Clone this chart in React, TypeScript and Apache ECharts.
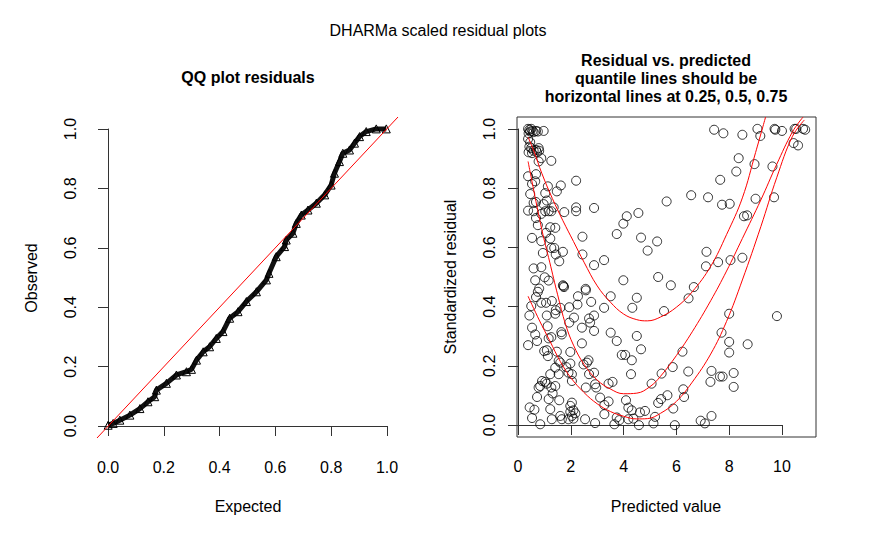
import React, { useEffect, useRef } from "react";
import * as echarts from "echarts";

// ---------- QQ plot (left) ----------
const qqExpected = [0, 0.018, 0.042, 0.078, 0.114, 0.143, 0.167, 0.173, 0.209, 0.245, 0.281, 0.299, 0.317, 0.341, 0.364, 0.388, 0.412, 0.436, 0.466, 0.496, 0.532, 0.568, 0.577, 0.603, 0.633, 0.639, 0.663, 0.675, 0.693, 0.717, 0.747, 0.777, 0.8, 0.812, 0.83, 0.842, 0.866, 0.884, 0.902, 0.926, 0.962, 0.998];
const qqObserved = [0.003, 0.009, 0.02, 0.037, 0.059, 0.082, 0.099, 0.121, 0.144, 0.172, 0.183, 0.191, 0.222, 0.25, 0.267, 0.295, 0.318, 0.363, 0.385, 0.419, 0.452, 0.492, 0.514, 0.57, 0.604, 0.626, 0.649, 0.682, 0.71, 0.727, 0.75, 0.778, 0.811, 0.851, 0.89, 0.918, 0.929, 0.952, 0.974, 0.991, 1.0, 1.0];
const qqRefLine = [[-0.04, -0.04], [1.04, 1.04]];

// ---------- Residual vs predicted (right) ----------
const predicted = [
  0.38, 0.43, 0.5, 0.46, 0.55, 0.4, 0.59, 0.68, 0.75, 0.97, 0.38, 0.46, 0.43, 0.5, 0.59, 0.68, 0.78, 0.8, 0.4, 0.53, 0.72,
  1.26, 0.78, 0.88, 0.38, 0.68, 0.53, 0.65, 1.13, 1.62, 1.47, 2.2, 1.03, 0.46, 0.59, 0.68, 0.97, 1.09, 1.35, 1.03, 1.16,
  1.26, 0.88, 0.59, 0.38, 1.75, 2.2, 2.2, 2.88, 0.68, 0.75, 1.22, 1.41, 1.06, 0.88, 0.53, 1.22, 2.44, 3.74, 3.99, 4.12,
  4.56, 1.26, 1.37, 1.43, 1.7, 0.94, 1.56, 2.44, 2.88, 3.26, 0.59, 0.88, 0.65, 1.01, 1.16, 0.8, 0.75, 0.68, 0.88, 1.06,
  1.28, 0.5, 1.72, 1.7, 1.74, 1.43, 1.6, 1.94, 2.25, 2.57, 2.77, 2.27, 3.26, 3.51, 3.99, 4.5, 4.33, 4.66, 4.91, 0.43,
  1.09, 1.41, 2.12, 2.42, 2.69, 2.73, 2.88, 2.88, 1.64, 1.66, 1.26, 1.16, 0.65, 0.53, 0.38, 0.72, 3.51, 3.74, 4.5, 4.66,
  2.42, 3.93, 4.06, 4.31, 0.99, 1.09, 1.47, 1.13, 1.98, 2.67, 2.61, 2.88, 0.44, 0.53, 0.62, 0.84, 1.22, 1.28, 1.6, 1.66,
  1.98, 2.1, 2.17, 2.04, 1.91, 2.54, 2.92, 3.27, 3.65, 3.74, 4.18, 4.58, 5.13, 5.19, 0.78, 0.91, 0.84, 1.09, 1.26, 1.41,
  1.31, 1.16, 0.72, 1.56, 1.54, 1.22, 1.91, 2.04, 2.57, 2.69, 2.92, 2.96, 3.11, 3.27, 3.43, 3.58, 3.43, 4.09, 4.18, 4.31,
  4.28, 4.62, 4.81, 5.06, 1.41, 1.54, 1.6, 1.83, 1.12, 2.56, 3.84, 4.37, 2.48, 1.94, 1.98, 2.04, 1.98, 2.04, 2.1, 1.03,
  7.43, 7.78, 8.5, 9.07, 9.18, 9.72, 9.75, 10.0, 10.48, 10.54, 10.8, 10.88, 10.44, 10.61, 8.36, 8.27, 8.96, 9.64, 7.66,
  5.63, 6.56, 7.2, 7.73, 8.02, 9.0, 9.7, 8.56, 8.68, 5.27, 7.14, 7.12, 7.58, 8.05, 8.5, 5.31, 5.79, 6.66, 6.46, 5.53, 8.0,
  9.81, 7.71, 8.0, 8.7, 8.0, 6.23, 5.86, 6.45, 7.33, 7.29, 7.65, 7.75, 8.17, 8.17, 6.26, 6.29, 5.66, 5.42, 5.44, 5.88,
  7.33, 6.92, 7.08, 5.94, 5.31
];
const scaledResidual = [
  1.0, 0.997, 1.0, 0.991, 0.993, 0.985, 0.989, 0.993, 0.991, 0.993, 0.966, 0.955, 0.94, 0.935, 0.926, 0.929, 0.935, 0.926, 0.921, 0.918, 0.921,
  0.892, 0.89, 0.901, 0.84, 0.847, 0.814, 0.823, 0.806, 0.809, 0.789, 0.825, 0.783, 0.78, 0.75, 0.753, 0.746, 0.758, 0.735, 0.722, 0.722,
  0.722, 0.713, 0.722, 0.724, 0.719, 0.735, 0.722, 0.733, 0.699, 0.675, 0.668, 0.666, 0.649, 0.621, 0.632, 0.63, 0.636, 0.645, 0.68, 0.705,
  0.716, 0.598, 0.598, 0.576, 0.585, 0.581, 0.553, 0.576, 0.54, 0.557, 0.529, 0.533, 0.489, 0.499, 0.488, 0.461, 0.45, 0.432, 0.413, 0.413,
  0.419, 0.402, 0.469, 0.472, 0.466, 0.388, 0.396, 0.398, 0.407, 0.455, 0.416, 0.435, 0.396, 0.435, 0.489, 0.43, 0.396, 0.633, 0.589, 0.37,
  0.37, 0.376, 0.363, 0.329, 0.36, 0.346, 0.37, 0.318, 0.314, 0.306, 0.297, 0.293, 0.306, 0.329, 0.27, 0.284, 0.312, 0.284, 0.301, 0.256,
  0.276, 0.237, 0.237, 0.219, 0.25, 0.253, 0.248, 0.233, 0.247, 0.219, 0.211, 0.177, 0.06, 0.024, 0.052, 0.003, 0.054, 0.02, 0.031, 0.02,
  0.045, 0.05, 0.04, 0.031, 0.02, 0.02, 0.007, 0.037, 0.003, 0.026, 0.02, 0.0, 0.006, 0.028, 0.127, 0.149, 0.132, 0.14, 0.127, 0.132,
  0.107, 0.088, 0.095, 0.084, 0.172, 0.172, 0.177, 0.149, 0.127, 0.172, 0.138, 0.127, 0.093, 0.068, 0.08, 0.146, 0.14, 0.084, 0.059, 0.05,
  0.172, 0.043, 0.048, 0.14, 0.194, 0.217, 0.211, 0.196, 0.334, 0.46, 0.017, 0.022, 0.205, 0.346, 0.208, 0.172, 0.065, 0.076, 0.022, 0.146,
  0.997, 0.985, 0.98, 1.0, 0.976, 1.0, 0.997, 0.993, 1.0, 1.0, 1.0, 0.997, 0.952, 0.944, 0.901, 0.856, 0.881, 0.873, 0.828,
  0.755, 0.776, 0.769, 0.744, 0.747, 0.764, 0.769, 0.705, 0.708, 0.62, 0.585, 0.536, 0.55, 0.557, 0.565, 0.5, 0.472, 0.466, 0.428, 0.385, 0.376,
  0.368, 0.312, 0.281, 0.273, 0.245, 0.248, 0.196, 0.181, 0.183, 0.146, 0.164, 0.164, 0.176, 0.129, 0.121, 0.095, 0.101, 0.088, 0.174, 0.056,
  0.031, 0.015, 0.006, 0.0, 0.075
];

// quantile regression curves (0.25, 0.5, 0.75)
const q75X = [0.38, 0.6, 0.9, 1.3, 1.7, 2.1, 2.5, 3.0, 3.5, 4.0, 4.5, 4.9, 5.4, 6.0, 6.6, 7.3, 7.9, 8.5, 9.0, 9.38];
const q75Y = [0.972, 0.925, 0.85, 0.765, 0.69, 0.62, 0.55, 0.47, 0.415, 0.375, 0.356, 0.352, 0.365, 0.398, 0.45, 0.536, 0.643, 0.767, 0.92, 1.04];
const q50X = [0.38, 0.6, 0.9, 1.2, 1.5, 1.8, 2.1, 2.5, 3.0, 3.5, 4.0, 4.5, 5.0, 5.4, 6.0, 6.6, 7.3, 7.9, 8.5, 9.2, 9.8, 10.4, 10.8];
const q50Y = [0.89, 0.79, 0.66, 0.55, 0.44, 0.34, 0.27, 0.205, 0.152, 0.122, 0.106, 0.108, 0.13, 0.165, 0.235, 0.315, 0.42, 0.52, 0.63, 0.76, 0.88, 0.99, 1.04];
const q25X = [0.38, 0.8, 1.2, 1.6, 2.0, 2.5, 3.0, 3.5, 4.0, 4.5, 4.9, 5.4, 6.0, 6.6, 7.3, 7.9, 8.5, 9.2, 9.8, 10.4, 10.85];
const q25Y = [0.435, 0.355, 0.285, 0.215, 0.16, 0.11, 0.072, 0.046, 0.03, 0.021, 0.022, 0.04, 0.08, 0.145, 0.24, 0.35, 0.49, 0.67, 0.835, 0.975, 1.03];

const unitTicksLabel = (v: number) => v.toFixed(1);
const FONT = '"Liberation Sans", Arial, Helvetica, sans-serif';
const AXIS_COLOR = "#333";

const zip = (a: number[], b: number[]) => a.map((v, i) => [v, b[i]]);

function visibleAxis(gridIndex: number, min: number, max: number, interval: number, offset: number, margin: number, fmt: (v: number) => string, isY: boolean) {
  return {
    gridIndex,
    type: "value",
    min,
    max,
    interval,
    offset,
    position: isY ? "left" : "bottom",
    axisLine: { show: true, lineStyle: { color: AXIS_COLOR, width: 1 } },
    axisTick: { show: true, length: 10, lineStyle: { color: AXIS_COLOR, width: 1 } },
    axisLabel: {
      show: true,
      margin,
      rotate: isY ? 90 : 0,
      color: "#000",
      fontSize: 16,
      fontFamily: FONT,
      formatter: fmt,
      showMinLabel: true,
      showMaxLabel: true,
    },
    splitLine: { show: false },
  };
}

function hiddenAxis(gridIndex: number, min: number, max: number) {
  return { gridIndex, type: "value", min, max, show: false, splitLine: { show: false } };
}

function text(t: string, x: number, y: number, bold: boolean, rotation = 0) {
  return {
    type: "text",
    x,
    y,
    rotation,
    silent: true,
    style: {
      text: t,
      fill: "#000",
      fontSize: 16,
      fontFamily: FONT,
      fontWeight: bold ? "bold" : "normal",
      align: "center",
      verticalAlign: "middle",
    },
  };
}

export default function App() {
  const ref = useRef<HTMLDivElement>(null);
  useEffect(() => {
    if (!ref.current) return;
    const chart = echarts.init(ref.current, undefined, { renderer: "svg" });
    const option = {
      animation: false,
      backgroundColor: "#fff",
      grid: [
        { left: 97, top: 117, width: 301, height: 321 },
        { left: 108, top: 129, width: 279, height: 297 },
        { left: 517, top: 117, width: 299, height: 320, show: true, borderColor: AXIS_COLOR, borderWidth: 1, backgroundColor: "transparent" },
        { left: 518, top: 129, width: 264, height: 296 },
      ],
      xAxis: [
        hiddenAxis(0, -0.04, 1.04),
        visibleAxis(1, 0, 1, 0.2, 12, 21, unitTicksLabel, false),
        hiddenAxis(2, -0.04, 11.29),
        visibleAxis(3, 0, 10, 2, 12, 21, (v: number) => String(Math.round(v)), false),
      ],
      yAxis: [
        hiddenAxis(0, -0.04, 1.04),
        visibleAxis(1, 0, 1, 0.2, 11, 19, unitTicksLabel, true),
        hiddenAxis(2, -0.04, 1.04),
        visibleAxis(3, 0, 1, 0.2, 1, 20, unitTicksLabel, true),
      ],
      graphic: [
        text("DHARMa scaled residual plots", 438, 30, false),
        text("QQ plot residuals", 248, 77, true),
        text("Residual vs. predicted", 666, 60, true),
        text("quantile lines should be", 666, 78, true),
        text("horizontal lines at 0.25, 0.5, 0.75", 666, 96, true),
        text("Expected", 248, 506, false),
        text("Observed", 31, 278, false, Math.PI / 2),
        text("Predicted value", 666, 506, false),
        text("Standardized residual", 450, 277, false, Math.PI / 2),
      ],
      series: [
        {
          type: "line",
          xAxisIndex: 0,
          yAxisIndex: 0,
          data: zip(qqExpected, qqObserved),
          symbol: "triangle",
          symbolSize: 8,
          showAllSymbol: true,
          lineStyle: { color: "#111", width: 5 },
          itemStyle: { color: "rgba(0,0,0,0)", borderColor: "#000", borderWidth: 1 },
          silent: true,
          z: 2,
        },
        {
          type: "line",
          xAxisIndex: 0,
          yAxisIndex: 0,
          data: qqRefLine,
          symbol: "none",
          lineStyle: { color: "#ff0000", width: 1 },
          silent: true,
          z: 3,
        },
        {
          type: "scatter",
          xAxisIndex: 2,
          yAxisIndex: 2,
          data: zip(predicted, scaledResidual),
          symbol: "circle",
          symbolSize: 9,
          itemStyle: { color: "rgba(0,0,0,0)", borderColor: "#000", borderWidth: 1 },
          silent: true,
          z: 2,
        },
        ...[zip(q25X, q25Y), zip(q50X, q50Y), zip(q75X, q75Y)].map((d) => ({
          type: "line",
          xAxisIndex: 2,
          yAxisIndex: 2,
          data: d,
          smooth: 0.4,
          symbol: "none",
          lineStyle: { color: "#ff0000", width: 1 },
          silent: true,
          z: 3,
        })),
      ],
    };
    chart.setOption(option as any);
    return () => chart.dispose();
  }, []);
  return (
    <div
      ref={ref}
      style={{ position: "fixed", left: 0, top: 0, width: 876, height: 536, background: "#fff" }}
    />
  );
}
